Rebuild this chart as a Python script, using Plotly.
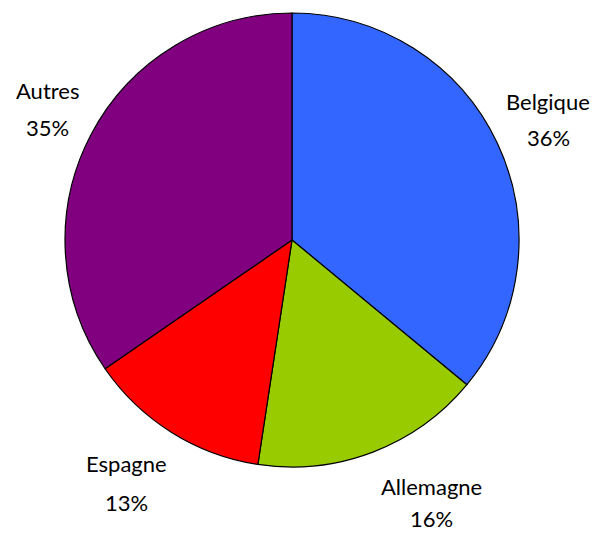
import plotly.graph_objects as go

countries = ["Belgique", "Allemagne", "Espagne", "Autres"]
shares = [36.0, 16.4, 13.0, 34.6]
colors = ["#3366FF", "#99CC00", "#FF0000", "#800080"]

# label layout (pixel centres of the name line and the percent line)
label_pos = {
    "Belgique": (548, 101, 138),
    "Allemagne": (431, 486, 518),
    "Espagne": (126, 463, 502),
    "Autres": (47, 91, 127),
}

W, H = 593, 534
cx, cy, r = 292, 240, 227

fig = go.Figure(go.Pie(
    labels=countries,
    values=shares,
    sort=False,
    direction="clockwise",
    rotation=0,
    marker=dict(colors=colors, line=dict(color="black", width=1.2)),
    textinfo="none",
    hoverinfo="label+percent",
    domain=dict(x=[(cx - r) / W, (cx + r) / W], y=[(H - cy - r) / H, (H - cy + r) / H]),
    showlegend=False,
))

total = sum(shares)
annotations = []
for name, val in zip(countries, shares):
    x, y1, y2 = label_pos[name]
    pct = f"{round(100 * val / total)}%"
    for txt, yy in ((name, y1), (pct, y2)):
        annotations.append(dict(
            x=x / W, y=1 - yy / H, xref="paper", yref="paper",
            text=txt, showarrow=False, xanchor="center", yanchor="middle",
            font=dict(family="Lato", size=22, color="black"),
        ))

fig.update_layout(
    width=W, height=H, autosize=False,
    margin=dict(l=0, r=0, t=0, b=0),
    paper_bgcolor="white", plot_bgcolor="white",
    annotations=annotations,
)

fig.write_html("out.html", config={"displayModeBar": False},
               post_script="document.body.style.margin='0';")
